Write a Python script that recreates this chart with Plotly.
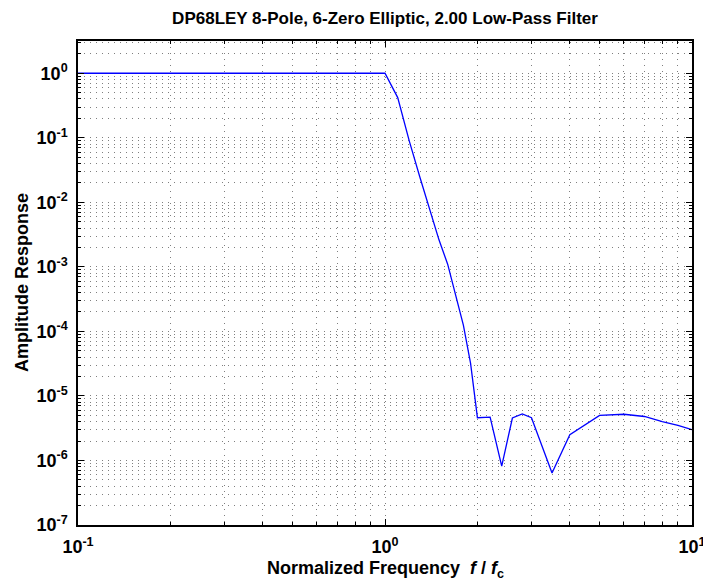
import numpy as np
import plotly.graph_objects as go

freq = [0.1, 0.2, 0.3, 0.4, 0.5, 0.6, 0.7, 0.8, 0.9, 1.0,
        1.1, 1.2, 1.3, 1.4, 1.5, 1.6, 1.7, 1.8, 1.9, 2.0,
        2.2, 2.4, 2.6, 2.8, 3.0, 3.5, 4.0, 5.0, 6.0, 7.0, 8.0, 9.0, 10.0]
amp = [1.0, 1.0, 1.0, 1.0, 1.0, 1.0, 1.0, 1.0, 1.0, 1.0,
       0.42, 0.089, 0.0243, 7.7e-3, 2.6e-3, 1.1e-3, 3.7e-4, 1.25e-4, 3.2e-5, 4.6e-6,
       4.7e-6, 8.2e-7, 4.55e-6, 5.25e-6, 4.6e-6, 6.4e-7, 2.5e-6, 5.0e-6, 5.2e-6, 4.8e-6, 4.0e-6, 3.5e-6, 3.0e-6]

x_major = [0.1, 1, 10]
x_labels = ["10<sup>-1</sup>", "10<sup>0</sup>", "10<sup>1</sup>"]
y_major = [1e-7, 1e-6, 1e-5, 1e-4, 1e-3, 1e-2, 1e-1, 1]
y_labels = ["10<sup>-7</sup>", "10<sup>-6</sup>", "10<sup>-5</sup>", "10<sup>-4</sup>",
            "10<sup>-3</sup>", "10<sup>-2</sup>", "10<sup>-1</sup>", "10<sup>0</sup>"]

x_minor = [m * 10.0 ** e for e in range(-1, 1) for m in range(2, 10)]
y_minor = [m * 10.0 ** e for e in range(-7, 1) for m in range(2, 10)]

fig = go.Figure()
fig.add_trace(go.Scatter(x=freq, y=amp, mode="lines",
                         line=dict(color="#0000ff", width=1.3), showlegend=False))

grid_col = "rgba(0,0,0,0.5)"
dash = "1px,5px"
font = "Liberation Sans, Arial, sans-serif"

axis_common = dict(
    type="log", showline=True, linecolor="black", linewidth=1.5, mirror="allticks",
    ticks="inside", ticklen=6, tickcolor="black",
    showgrid=True, gridcolor=grid_col, griddash=dash, gridwidth=1,
    zeroline=False, automargin=False, ticklabeloverflow="allow",
    tickfont=dict(family=font, size=18, color="black", weight="bold"),
)

minor_common = dict(tickmode="array", ticks="inside", ticklen=3, tickcolor="black",
                    showgrid=True, gridcolor=grid_col, griddash=dash, gridwidth=1)

fig.update_xaxes(**axis_common, range=[-1, 1], tickmode="array",
                 tickvals=x_major, ticktext=x_labels, ticklabelstandoff=5,
                 minor=dict(tickvals=x_minor, **minor_common))
fig.update_yaxes(**axis_common, range=[-7, 0.5], tickmode="array",
                 tickvals=y_major, ticktext=y_labels, ticklabelstandoff=5,
                 minor=dict(tickvals=y_minor, **minor_common))

fig.update_layout(
    width=703, height=586,
    margin=dict(l=78, r=11, t=41, b=61, autoexpand=False),
    paper_bgcolor="white", plot_bgcolor="white",
    title=dict(text="DP68LEY 8-Pole, 6-Zero Elliptic, 2.00 Low-Pass Filter",
               x=0.5, xref="paper", xanchor="center", y=1 - 18 / 586, yanchor="middle",
               font=dict(family=font, size=17, color="black", weight="bold"),
               automargin=False),
    annotations=[
        dict(text="Normalized Frequency  <i>f</i> / <i>f</i><sub>c</sub>",
             xref="paper", yref="paper", x=0.5, y=-(569 - 525) / 484,
             xanchor="center", yanchor="middle", showarrow=False,
             font=dict(family=font, size=18, color="black", weight="bold")),
        dict(text="Amplitude Response", textangle=-90,
             xref="paper", yref="paper", x=-(78 - 22) / 614, y=0.5,
             xanchor="center", yanchor="middle", showarrow=False,
             font=dict(family=font, size=18, color="black", weight="bold")),
    ],
)

fig.write_html("out.html", config={"displayModeBar": False},
               post_script="document.body.style.margin='0';document.body.style.overflow='hidden';")
